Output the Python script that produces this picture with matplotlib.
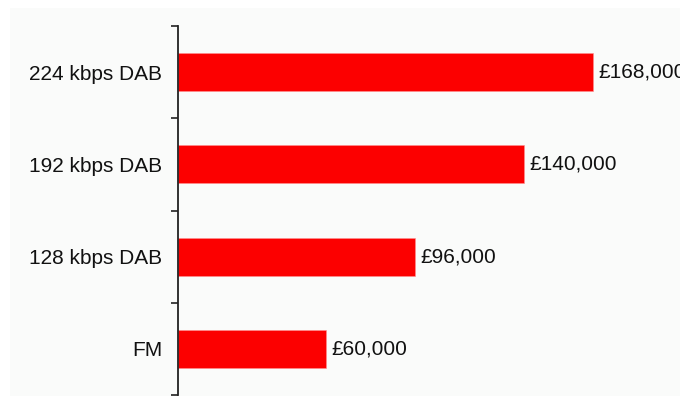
import numpy as np
import matplotlib.pyplot as plt
from matplotlib.patches import Rectangle

categories = ['224 kbps DAB', '192 kbps DAB', '128 kbps DAB', 'FM']
costs = [168000, 140000, 96000, 60000]
labels = ['£168,000', '£140,000', '£96,000', '£60,000']

plt.rcParams['font.family'] = ['Liberation Sans', 'DejaVu Sans']

fig = plt.figure(figsize=(6.8, 3.96), dpi=100, facecolor='white')
# light grey chart background, kept behind the axes
fig.add_artist(Rectangle((10/680, 0), 670/680, 388/396, transform=fig.transFigure,
                         facecolor='#fafbfa', edgecolor='none', zorder=-10))

ax = fig.add_axes([178/680, 1/396, 502/680, 369/396])
ax.set_facecolor('none')
ax.set_zorder(5)

y = np.arange(len(categories))[::-1]
ax.barh(y, costs, height=0.41, color='#fc0000', edgecolor='#ff9090', linewidth=0.4)
for yi, v, t in zip(y, costs, labels):
    ax.text(v + 2200, yi, t, va='center', ha='left', fontsize=15, color='#111111',
            clip_on=False)

ax.set_ylim(-0.5, len(categories) - 0.5)
ax.set_xlim(0, 502 / 415 * 168000)

ax.set_yticks(y)
ax.set_yticklabels(categories, fontsize=15, color='#111111')
ax.tick_params(axis='y', which='major', length=0, pad=11.5)
ax.set_yticks(np.arange(-0.5, len(categories), 1.0), minor=True)
ax.tick_params(axis='y', which='minor', length=5, width=1.2, color='#222222')
ax.set_xticks([])

for s in ['top', 'right', 'bottom']:
    ax.spines[s].set_visible(False)
ax.spines['left'].set_linewidth(1.3)
ax.spines['left'].set_color('#222222')

fig.savefig('out.png', dpi=100, facecolor='white')
